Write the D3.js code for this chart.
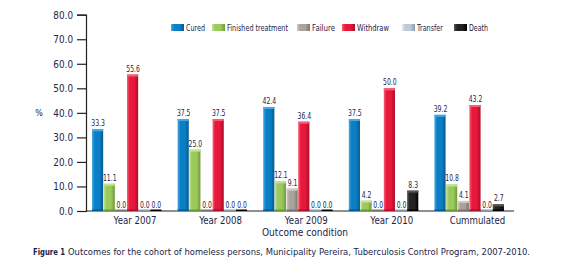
<!DOCTYPE html>
<html>
<head>
<meta charset="utf-8">
<script src="https://cdn.jsdelivr.net/npm/d3@7"></script>
<style>
  body { margin: 0; background: #fff; }
  svg text { font-family: "DejaVu Sans", Verdana, sans-serif; fill: #1b2447; }
</style>
</head>
<body>
<div id="svg-container"></div>
<script>
// chart data
var groups = ["Year 2007", "Year 2008", "Year 2009", "Year 2010", "Cummulated"];
var seriesNames = ["Cured", "Finished treatment", "Failure", "Withdraw", "Transfer", "Death"];
var cured     = [33.3, 37.5, 42.4, 37.5, 39.2];
var finished  = [11.1, 25.0, 12.1, 4.2, 10.8];
var failure   = [0.0, 0.0, 9.1, 0.0, 4.1];
var withdraw  = [55.6, 37.5, 36.4, 50.0, 43.2];
var transfer  = [0.0, 0.0, 0.0, 0.0, 0.0];
var death     = [0.0, 0.0, 0.0, 8.3, 2.7];
var yTicks = [0, 10, 20, 30, 40, 50, 60, 70, 80];

var seriesValues = [cured, finished, failure, withdraw, transfer, death];
var colors = ["#0b7fc6", "#9cc95b", "#aaa39d", "#e8173c", "#bccbd9", "#222222"];
var darks  = ["#06598e", "#6f9a3a", "#7c756f", "#a80f29", "#8a9aaa", "#000000"];
var lights = ["#4aa8e0", "#c3e28f", "#d0cac4", "#f5606f", "#e3ecf4", "#555555"];

var W = 563, H = 262;
var svg = d3.select("#svg-container").append("svg")
	.attr("width", W).attr("height", H);

// squeeze text horizontally, the original font is narrow
function squeeze(sel, k) {
	sel.each(function(){
		var l = this.getComputedTextLength();
		d3.select(this).attr("textLength", l * k).attr("lengthAdjust", "spacingAndGlyphs");
	});
}
function fitTo(sel, w) {
	sel.attr("textLength", w).attr("lengthAdjust", "spacingAndGlyphs");
}

// gradients for the shaded bar look
var defs = svg.append("defs");
colors.forEach(function(c, i){
	var g = defs.append("linearGradient").attr("id", "grad" + i)
		.attr("x1", "0%").attr("x2", "100%").attr("y1", "0%").attr("y2", "0%");
	g.append("stop").attr("offset", "0%").attr("stop-color", lights[i]);
	g.append("stop").attr("offset", "25%").attr("stop-color", c);
	g.append("stop").attr("offset", "65%").attr("stop-color", c);
	g.append("stop").attr("offset", "100%").attr("stop-color", darks[i]);
});

var y = d3.scaleLinear().domain([0, 80]).range([211, 14.7]);
var x0 = d3.scaleBand().domain(groups).range([86, 514]);
var x1 = d3.scaleBand().domain(seriesNames).range([6, 76]);

// y axis
var yAxis = d3.axisLeft(y).tickValues(yTicks).tickSize(9).tickPadding(4)
	.tickFormat(d3.format(".1f"));
var ya = svg.append("g").attr("transform", "translate(86,0)").call(yAxis);
ya.select(".domain").attr("stroke", "#222").attr("stroke-width", 1.2);
ya.selectAll(".tick line").attr("stroke", "#222").attr("stroke-width", 1.2);
ya.selectAll(".tick text").style("font-size", "10.5px").style("fill", "#1b2447")
	.attr("font-family", "DejaVu Sans");
squeeze(ya.selectAll(".tick text"), 0.84);

// x axis line
svg.append("line")
	.attr("x1", 86).attr("x2", 514).attr("y1", y(0)).attr("y2", y(0))
	.attr("stroke", "#222").attr("stroke-width", 1.2);

// bars
var groupG = svg.selectAll(".grp").data(groups).enter().append("g")
	.attr("class", "grp")
	.attr("transform", function(d){ return "translate(" + x0(d) + ",0)"; });

groupG.each(function(g, gi){
	var sel = d3.select(this);
	seriesNames.forEach(function(s, si){
		var v = seriesValues[si][gi];
		var bx = x1(s), bw = x1.bandwidth() - 0.5;
		if (v > 0) {
			sel.append("rect")
				.attr("x", bx).attr("y", y(v))
				.attr("width", bw).attr("height", y(0) - y(v))
				.attr("fill", "url(#grad" + si + ")");
			sel.append("rect")
				.attr("x", bx).attr("y", y(v))
				.attr("width", bw).attr("height", 2)
				.attr("fill", lights[si]);
		}
		sel.append("rect")
			.attr("x", bx).attr("y", y(0) - 1.5)
			.attr("width", bw).attr("height", 1.5)
			.attr("fill", darks[si]);
		var t = sel.append("text")
			.attr("class", "val")
			.attr("x", bx + bw / 2 + 0.5).attr("y", y(v) - 3)
			.attr("text-anchor", "middle")
			.style("font-size", "8px")
			.text(d3.format(".1f")(v));
		squeeze(t, 0.76);
	});
	var lab = sel.append("text")
		.attr("x", 49).attr("y", 224)
		.attr("text-anchor", "middle")
		.style("font-size", "10.5px")
		.text(g);
	squeeze(lab, 0.82);
});

// axis titles
svg.append("text").attr("x", 39).attr("y", 116).attr("text-anchor", "middle")
	.style("font-size", "8px").text("%");
var xt = svg.append("text").attr("x", 305).attr("y", 236).attr("text-anchor", "middle")
	.style("font-size", "10.5px").text("Outcome condition");
fitTo(xt, 86);

// legend
var legendX = [171, 212, 297, 342, 402, 454];
var legendW = [19, 61, 23, 32, 26, 19];
seriesNames.forEach(function(s, i){
	svg.append("rect").attr("x", legendX[i]).attr("y", 24)
		.attr("width", 13).attr("height", 7).attr("fill", "url(#grad" + i + ")");
	var t = svg.append("text").attr("x", legendX[i] + 15).attr("y", 30.5)
		.style("font-size", "8.5px").text(s);
	fitTo(t, legendW[i]);
});

// caption
var c1 = svg.append("text").attr("x", 33).attr("y", 255)
	.style("font-size", "8px").style("font-weight", "bold").text("Figure 1");
fitTo(c1, 32);
var c2 = svg.append("text").attr("x", 68).attr("y", 255).style("font-size", "8px")
	.text("Outcomes for the cohort of homeless persons, Municipality Pereira, Tuberculosis Control Program, 2007-2010.");
fitTo(c2, 462);
</script>
</body>
</html>
